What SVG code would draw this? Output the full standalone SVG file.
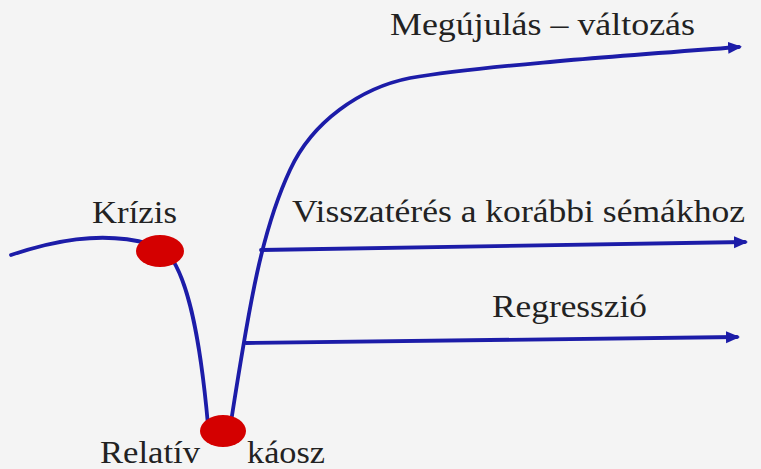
<svg xmlns="http://www.w3.org/2000/svg" width="761" height="469" viewBox="0 0 761 469">
  <style>
    .ln { fill: none; stroke: #1c1ca8; stroke-width: 3.8; stroke-linecap: round; }
    .dot { fill: #d40000; }
    .lbl { font-family: "Liberation Serif", "DejaVu Serif", serif; font-size: 32px; fill: #222222; }
  </style>
  <defs>
    <marker id="ah" markerUnits="userSpaceOnUse" markerWidth="15" markerHeight="13" refX="11" refY="6.5" orient="auto">
      <path d="M0,0.5 L14,6.5 L0,12.5 z" fill="#1c1ca8"/>
    </marker>
  </defs>
  <rect x="0" y="0" width="761" height="469" fill="#f4f4f4"/>

  <g id="connectors">
    <path class="ln" d="M11,255 C50,242 100,230 150,244"/>
    <path class="ln" d="M170,256 C186,278 199,325 208,425"/>
    <path class="ln" marker-end="url(#ah)" d="M231,422 C250,300 262,230 290,170 C312,122 360,88 410,78 C480,66 620,56 739,47"/>
    <path class="ln" marker-end="url(#ah)" d="M261,250 L745,242"/>
    <path class="ln" marker-end="url(#ah)" d="M246,343 L737,337"/>
  </g>

  <g id="krizis">
    <ellipse class="dot" cx="160" cy="251" rx="24" ry="16"/>
    <text class="lbl" x="92" y="223" textLength="85" lengthAdjust="spacingAndGlyphs">Krízis</text>
  </g>

  <g id="relativ-kaosz">
    <ellipse class="dot" cx="223" cy="431" rx="23" ry="16"/>
    <text class="lbl" x="100" y="463" textLength="100" lengthAdjust="spacingAndGlyphs">Relatív</text>
    <text class="lbl" x="247" y="463" textLength="78" lengthAdjust="spacingAndGlyphs">káosz</text>
  </g>

  <g id="megujulas">
    <text class="lbl" x="390" y="35" textLength="305" lengthAdjust="spacingAndGlyphs">Megújulás – változás</text>
  </g>

  <g id="visszateres">
    <text class="lbl" x="292" y="222" textLength="453" lengthAdjust="spacingAndGlyphs">Visszatérés a korábbi sémákhoz</text>
  </g>

  <g id="regresszio">
    <text class="lbl" x="492" y="317" textLength="155" lengthAdjust="spacingAndGlyphs">Regresszió</text>
  </g>
</svg>
